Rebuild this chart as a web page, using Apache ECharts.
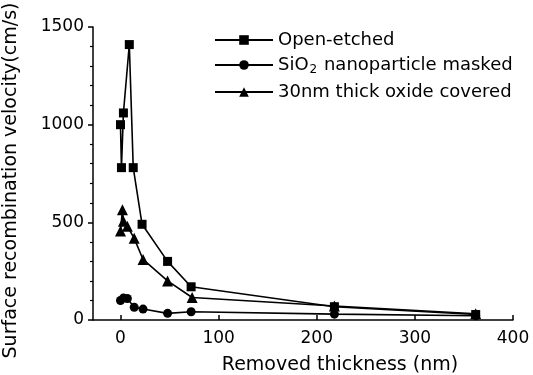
<!DOCTYPE html>
<html><head><meta charset="utf-8">
<script src="https://cdn.jsdelivr.net/npm/echarts@6/dist/echarts.min.js"></script>
<style>html,body{margin:0;padding:0;background:#fff}#c{width:533px;height:375px}</style>
</head><body><div id="c"></div>
<script>
const xTicks = [0, 100, 200, 300, 400];
const openEtched = [[0,1000],[1,780],[3,1060],[9,1410],[13,780],[22,490],[48,300],[72,170],[218,68],[362,28]];
const masked = [[0,100],[3,112],[7,110],[14,65],[23,56],[48,34],[72,42],[218,30],[362,22]];
const oxide = [[0,455],[2,565],[3,505],[7,480],[14,418],[23,310],[48,200],[73,115],[218,72],[362,32]];
const names = ['Open-etched', 'SiO2 nanoparticle masked', '30nm thick oxide covered'];

const font = 'DejaVu Sans';
const chart = echarts.init(document.getElementById('c'));
const mk = (name, data, symbol, size) => ({
  name, type: 'line', data, symbol, symbolSize: size,
  lineStyle: {color: '#000', width: 1.6},
  itemStyle: {color: '#000'},
  animation: false
});
chart.setOption({
  animation: false,
  grid: {left: 93, right: 20, top: 27, bottom: 55, outerBoundsMode: 'none', containLabel: false},
  legend: {
    orient: 'vertical', left: 209, top: 26, itemGap: 7, itemWidth: 58, itemHeight: 12,
    formatter: function (n) {
      if (n.indexOf('SiO2') === 0) return '{a|SiO}{s|2}{a|' + n.slice(4) + '}';
      return '{a|' + n + '}';
    },
    textStyle: {
      fontFamily: font, fontSize: 18, color: '#000',
      rich: {
        a: {fontFamily: font, fontSize: 18, color: '#000'},
        s: {fontFamily: font, fontSize: 12, color: '#000', padding: [10, 1, 0, 1]}
      }
    },
    data: names
  },
  xAxis: {
    type: 'value', min: -28, max: 400,
    name: 'Removed thickness (nm)', nameLocation: 'middle', nameGap: 36,
    nameTextStyle: {fontFamily: font, fontSize: 19, color: '#000', padding: [0, 0, 0, 74]},
    axisLine: {show: true, onZero: false, lineStyle: {color: '#000', width: 1.5}},
    axisTick: {show: true, inside: true, length: 5, customValues: xTicks, lineStyle: {color: '#000', width: 1.5}},
    axisLabel: {customValues: xTicks, fontFamily: font, fontSize: 17, color: '#000', margin: 10},
    splitLine: {show: false}
  },
  yAxis: {
    type: 'value', min: 0, max: 1500, interval: 500,
    name: 'Surface recombination velocity(cm/s)', nameLocation: 'middle', nameGap: 72,
    nameTextStyle: {fontFamily: font, fontSize: 19, color: '#000', padding: [0, 14, 0, 0]},
    axisLine: {show: true, onZero: false, lineStyle: {color: '#000', width: 1.5}},
    axisTick: {show: true, length: 5, lineStyle: {color: '#000', width: 1.5}},
    minorTick: {show: true, splitNumber: 5, length: 3, lineStyle: {color: '#000', width: 1.2}},
    axisLabel: {fontFamily: font, fontSize: 17, color: '#000', margin: 9, formatter: v => String(v)},
    splitLine: {show: false}
  },
  series: [
    mk(names[0], openEtched, 'rect', 9),
    mk(names[1], masked, 'circle', 9),
    mk(names[2], oxide, 'triangle', 11)
  ]
});
</script></body></html>
